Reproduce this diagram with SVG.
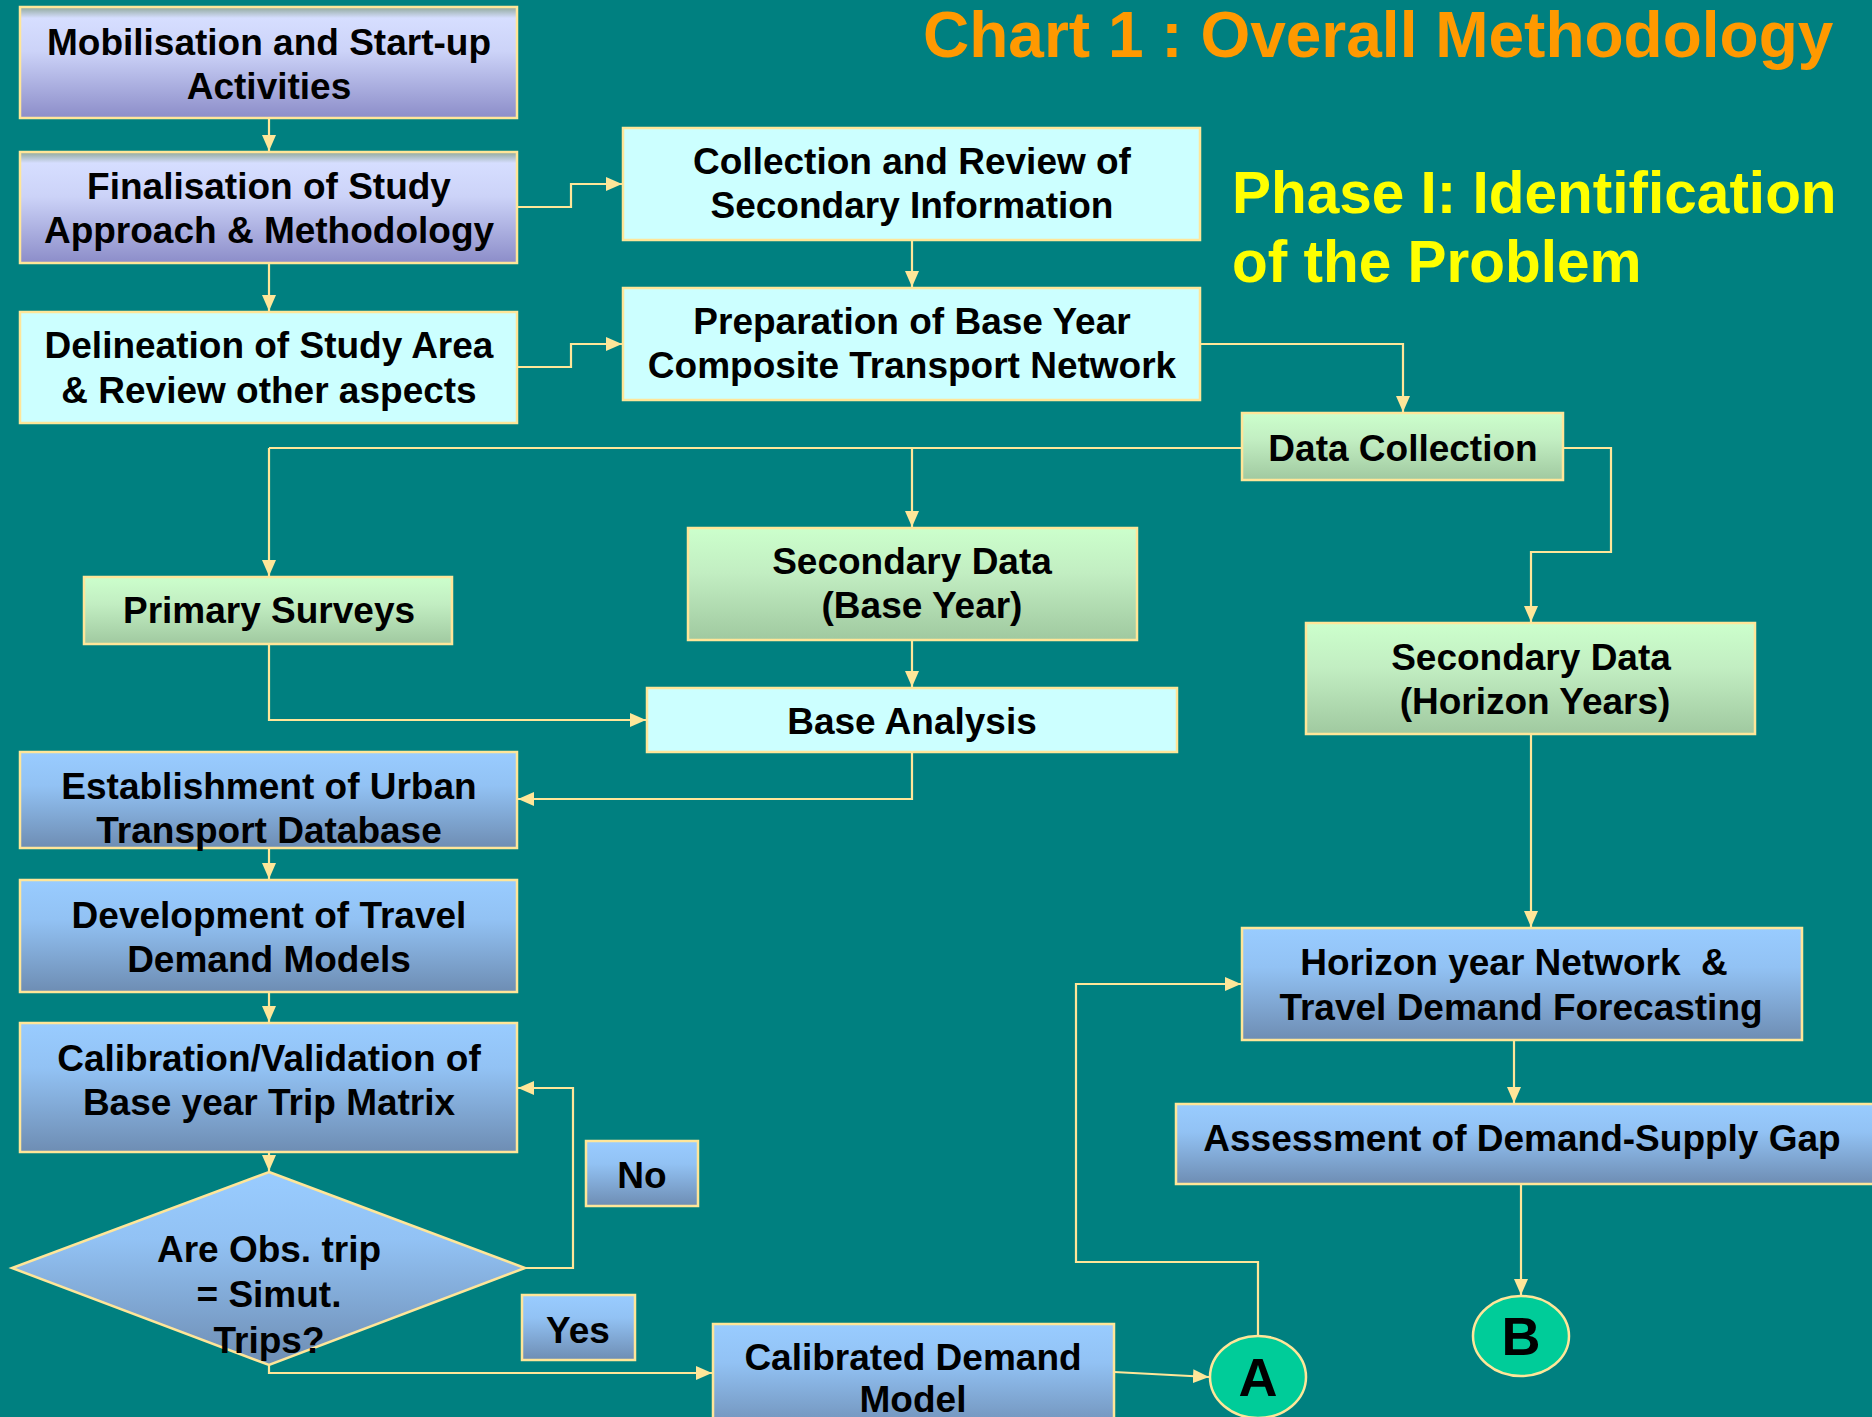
<svg xmlns="http://www.w3.org/2000/svg" width="1872" height="1417" viewBox="0 0 1872 1417">
<defs>
<linearGradient id="gPurple" x1="0" y1="0" x2="0" y2="1">
<stop offset="0" stop-color="#8FA89A"/>
<stop offset="0.1" stop-color="#D6DEFF"/>
<stop offset="0.4" stop-color="#CCD3F8"/>
<stop offset="1" stop-color="#8C8DC9"/>
</linearGradient>
<linearGradient id="gBlue" x1="0" y1="0" x2="0" y2="1">
<stop offset="0" stop-color="#99CCFF"/>
<stop offset="0.35" stop-color="#92C2F4"/>
<stop offset="1" stop-color="#6E8DB3"/>
</linearGradient>
<linearGradient id="gGreen" x1="0" y1="0" x2="0" y2="1">
<stop offset="0" stop-color="#CCFFCC"/>
<stop offset="0.4" stop-color="#C2EEC2"/>
<stop offset="1" stop-color="#A0C9A0"/>
</linearGradient>
<marker id="arr" markerUnits="userSpaceOnUse" markerWidth="16" markerHeight="14" viewBox="0 0 16 14" refX="16" refY="7" orient="auto">
<path d="M0,0 L16,7 L0,14 Z" fill="#FFE699"/>
</marker>
<style>
.bx{stroke:#FFE699;stroke-width:2.5}
.cy{fill:#CCFFFF}
.pu{fill:url(#gPurple)}
.bl{fill:url(#gBlue)}
.gr{fill:url(#gGreen)}
.t{font-family:"Liberation Sans",Arial,sans-serif;font-weight:bold;font-size:37px;fill:#000;text-anchor:middle}
.c{fill:none;stroke:#FFE699;stroke-width:2.2}
.ca{fill:none;stroke:#FFE699;stroke-width:2.2;marker-end:url(#arr)}
.circ{fill:#00CC99;stroke:#FFE699;stroke-width:2.5}
</style>
</defs>
<rect width="1872" height="1417" fill="#008080"/>

<text x="923" y="57" font-family="Liberation Sans, Arial, sans-serif" font-weight="bold" font-size="64" fill="#FF9900">Chart 1 : Overall Methodology</text>
<text font-family="Liberation Sans, Arial, sans-serif" font-weight="bold" font-size="58.5" fill="#FFFF00"><tspan x="1232" y="213">Phase I: Identification</tspan><tspan x="1232" y="282">of the Problem</tspan></text>

<g id="connectors">
<path class="ca" d="M269,118 V151"/>
<path class="ca" d="M269,263 V311"/>
<path class="ca" d="M517,207 H571 V184 H622"/>
<path class="ca" d="M517,367 H571 V344 H622"/>
<path class="ca" d="M912,240 V287"/>
<path class="ca" d="M1200,344 H1403 V412"/>
<path class="c" d="M1242,448 H269"/>
<path class="ca" d="M269,448 V576"/>
<path class="ca" d="M912,448 V527"/>
<path class="ca" d="M1563,448 H1611 V552 H1531 V622"/>
<path class="ca" d="M912,640 V687"/>
<path class="ca" d="M269,644 V720 H646"/>
<path class="ca" d="M912,752 V799 H518"/>
<path class="ca" d="M269,848 V879"/>
<path class="ca" d="M269,992 V1022"/>
<path class="ca" d="M269,1152 V1171"/>
<path class="ca" d="M525,1268 H573 V1088 H518"/>
<path class="ca" d="M269,1365 V1373 H712"/>
<path class="ca" d="M1114,1372 L1209,1377"/>
<path class="ca" d="M1258,1336 V1262 H1076 V984 H1241"/>
<path class="ca" d="M1531,734 V927"/>
<path class="ca" d="M1514,1040 V1103"/>
<path class="ca" d="M1521,1184 V1295"/>
</g>

<g id="n-mobilisation"><rect class="bx pu" x="20" y="7" width="497" height="111"/><text class="t"><tspan x="269" y="55">Mobilisation and Start-up</tspan><tspan x="269" y="99">Activities</tspan></text></g>
<g id="n-finalisation"><rect class="bx pu" x="20" y="152" width="497" height="111"/><text class="t"><tspan x="269" y="199">Finalisation of Study</tspan><tspan x="269" y="243">Approach &amp; Methodology</tspan></text></g>
<g id="n-delineation"><rect class="bx cy" x="20" y="312" width="497" height="111"/><text class="t"><tspan x="269" y="358">Delineation of Study Area</tspan><tspan x="269" y="403">&amp; Review other aspects</tspan></text></g>
<g id="n-collection"><rect class="bx cy" x="623" y="128" width="577" height="112"/><text class="t"><tspan x="912" y="174">Collection and Review of</tspan><tspan x="912" y="218">Secondary Information</tspan></text></g>
<g id="n-preparation"><rect class="bx cy" x="623" y="288" width="577" height="112"/><text class="t"><tspan x="912" y="334">Preparation of Base Year</tspan><tspan x="912" y="378">Composite Transport Network</tspan></text></g>
<g id="n-datacollection"><rect class="bx gr" x="1242" y="413" width="321" height="67"/><text class="t" x="1403" y="461">Data Collection</text></g>
<g id="n-primary"><rect class="bx gr" x="84" y="577" width="368" height="67"/><text class="t" x="269" y="623">Primary Surveys</text></g>
<g id="n-secbase"><rect class="bx gr" x="688" y="528" width="449" height="112"/><text class="t"><tspan x="912" y="574">Secondary Data</tspan><tspan x="922" y="618">(Base Year)</tspan></text></g>
<g id="n-basean"><rect class="bx cy" x="647" y="688" width="530" height="64"/><text class="t" x="912" y="734">Base Analysis</text></g>
<g id="n-sechor"><rect class="bx gr" x="1306" y="623" width="449" height="111"/><text class="t"><tspan x="1531" y="670">Secondary Data</tspan><tspan x="1535" y="714">(Horizon Years)</tspan></text></g>
<g id="n-establish"><rect class="bx bl" x="20" y="752" width="497" height="96"/><text class="t"><tspan x="269" y="799">Establishment of Urban</tspan><tspan x="269" y="843">Transport Database</tspan></text></g>
<g id="n-develop"><rect class="bx bl" x="20" y="880" width="497" height="112"/><text class="t"><tspan x="269" y="928">Development of Travel</tspan><tspan x="269" y="972">Demand Models</tspan></text></g>
<g id="n-calib"><rect class="bx bl" x="20" y="1023" width="497" height="129"/><text class="t"><tspan x="269" y="1071">Calibration/Validation of</tspan><tspan x="269" y="1115">Base year Trip Matrix</tspan></text></g>
<g id="n-decision"><polygon class="bx bl" points="269,1172 525,1268 269,1365 12,1268"/><text class="t"><tspan x="269" y="1262">Are Obs. trip</tspan><tspan x="269" y="1307">= Simut.</tspan><tspan x="269" y="1353">Trips?</tspan></text></g>
<g id="n-no"><rect class="bx bl" x="586" y="1141" width="112" height="65"/><text class="t" x="642" y="1188">No</text></g>
<g id="n-yes"><rect class="bx bl" x="522" y="1295" width="113" height="65"/><text class="t" x="578" y="1343">Yes</text></g>
<g id="n-calibrated"><rect class="bx bl" x="713" y="1324" width="401" height="110"/><text class="t"><tspan x="913" y="1370">Calibrated Demand</tspan><tspan x="913" y="1412">Model</tspan></text></g>
<g id="n-horizon"><rect class="bx bl" x="1242" y="928" width="560" height="112"/><text class="t"><tspan x="1514" y="975" xml:space="preserve">Horizon year Network  &amp;</tspan><tspan x="1521" y="1020">Travel Demand Forecasting</tspan></text></g>
<g id="n-assess"><rect class="bx bl" x="1176" y="1104" width="700" height="80"/><text class="t" x="1522" y="1151">Assessment of Demand-Supply Gap</text></g>
<g id="n-A"><ellipse class="circ" cx="1258" cy="1377" rx="48" ry="41"/><text class="t" x="1258" y="1396" style="font-size:54px">A</text></g>
<g id="n-B"><ellipse class="circ" cx="1521" cy="1336" rx="48" ry="40"/><text class="t" x="1521" y="1355" style="font-size:54px">B</text></g>
</svg>
